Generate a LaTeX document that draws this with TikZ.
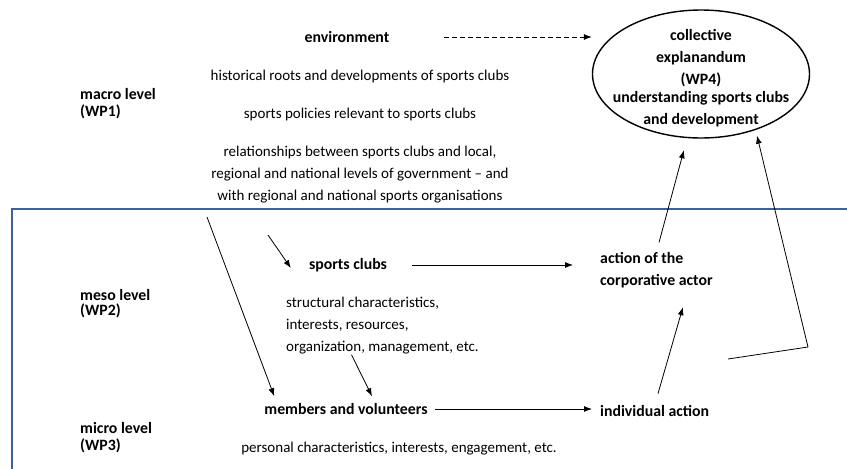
\documentclass[tikz,border=0pt]{standalone}
\usepackage{fontspec}
\setmainfont{Carlito}
\usetikzlibrary{arrows.meta,shapes.geometric}
\begin{document}
\begin{tikzpicture}[x=1pt, y=-1pt,
  every node/.style={inner sep=0pt, font=\fontsize{15}{22}\selectfont},
  plain/.style={align=center},
  key/.style={align=center, font=\fontsize{15.8}{22}\selectfont\bfseries},
  lvl/.style={anchor=west, align=left, font=\fontsize{15.8}{17}\selectfont\bfseries},
  arr/.style={-{Latex[length=8pt,width=6pt]}, line width=0.8pt}]
\definecolor{boxblue}{HTML}{3F6196}
\useasboundingbox (0,0) rectangle (847,469);
% levels
\draw[boxblue, line width=2pt] (12,470) -- (12,209) -- (848,209);
\node[lvl] (macro) at (80,104) {macro level\\(WP1)};
\node[lvl] (meso) at (80,304) {meso level\\[-2pt](WP2)};
\node[lvl] (micro) at (80,438) {micro level\\(WP3)};
% macro texts
\node[key] (env) at (347,37) {environment};
\node[plain] (hist) at (360,76) {historical roots and developments of sports clubs};
\node[plain] (policy) at (360,114) {sports policies relevant to sports clubs};
\node[plain] (rel) at (360,175) {relationships between sports clubs and local,\\regional and national levels of government -- and\\with regional and national sports organisations};
\node[key, ellipse, draw, line width=1.4pt, inner xsep=-30pt, inner ysep=-30pt,
  minimum width=217pt, minimum height=128pt] (expl) at (701,74)
  {\mbox{}\\[-3pt]collective\\explanandum\\(WP4)\\[-4pt]understanding sports clubs\\and development};
% meso and micro texts
\node[key] (clubs) at (348,265) {sports clubs};
\node[plain, anchor=west, align=left] (struct) at (286,326) {structural characteristics,\\interests, resources,\\organization, management, etc.};
\node[key, anchor=west, align=left] (corp) at (600,270) {action of the\\corporative actor};
\node[key] (members) at (346,409) {members and volunteers};
\node[plain] (personal) at (399,449) {personal characteristics, interests, engagement, etc.};
\node[key, anchor=west] (indiv) at (600,411) {individual action};
\coordinate (clin) at (268,235);
\coordinate (relout) at (207,217);
\coordinate (fb) at (728,359);
\coordinate (fbc) at (808,347);
% connectors
\draw[arr, dashed, dash pattern=on 5pt off 3pt, shorten <=55pt] (env.east) -- (env.east -| expl.west);
\draw[arr] (clin) -- ([xshift=-18pt,yshift=-3pt]clubs.west);
\draw[arr] (relout) -- ([xshift=10pt,yshift=7pt]members.north west);
\draw[arr] ([xshift=-31pt]struct.south) -- ([xshift=26pt,yshift=7pt]members.north);
\draw[arr, shorten <=25pt, shorten >=27pt] (clubs.east) -- (clubs.east -| corp.west);
\draw[arr, shorten <=7pt, shorten >=8pt] (members.east) -- (members.east -| indiv.west);
\draw[arr, shorten <=12pt, shorten >=20pt] (indiv.north) -- ([xshift=32pt]corp.south);
\draw[arr, shorten <=10pt, shorten >=12pt] (corp.north) -- ([xshift=-14pt]expl.south);
\draw[arr] (fb) -- (fbc) -- ([xshift=56pt,yshift=3pt]expl.south);
\end{tikzpicture}
\end{document}
